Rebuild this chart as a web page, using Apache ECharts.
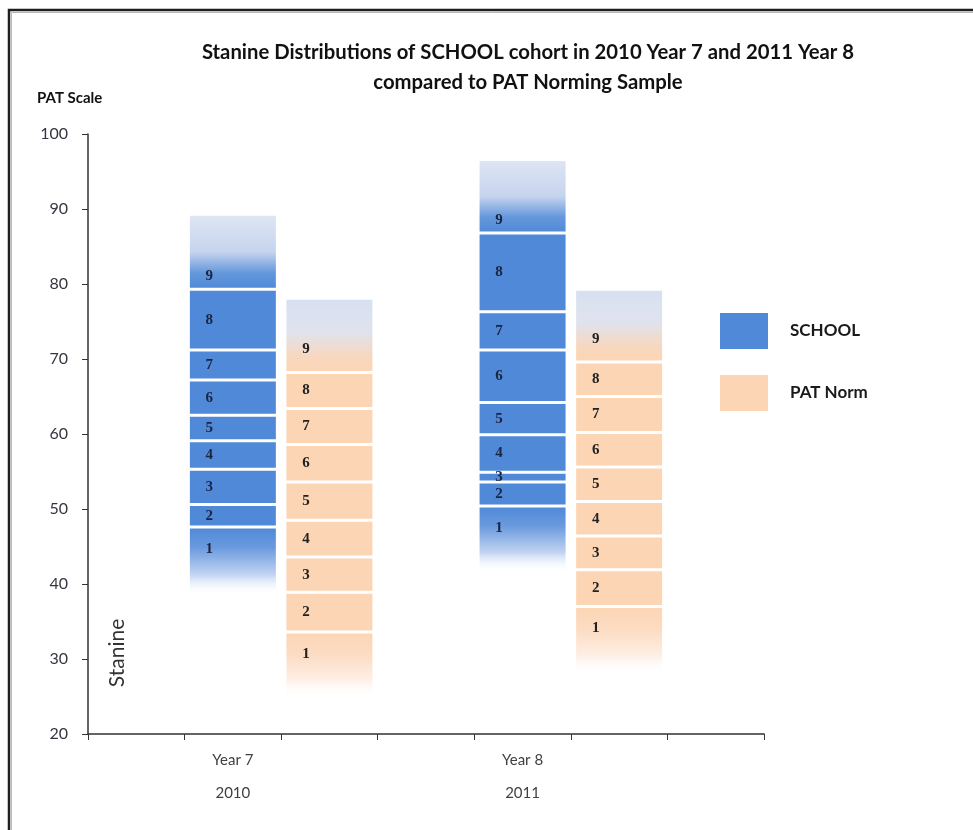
<!DOCTYPE html>
<html>
<head>
<meta charset="utf-8">
<title>Stanine Distributions</title>
<script src="https://cdn.jsdelivr.net/npm/echarts@6/dist/echarts.min.js"></script>
<style>
  html, body { margin: 0; padding: 0; background: #fff; }
  #chart { width: 973px; height: 830px; }
</style>
</head>
<body>
<div id="chart"></div>
<script>
// 类目（每组两根柱：SCHOOL / PAT Norm）
const categories = ['', 'Year 7\n2010', '', '', 'Year 8\n2011', '', ''];
// 各柱的标准九分边界（从 stanine 1 底部到 stanine 9 顶部）
const school2010 = [38.5, 47.6, 50.6, 55.3, 59.1, 62.5, 67.2, 71.2, 79.3, 89.3];
const pat2010 = [25.0, 33.6, 38.9, 43.6, 48.5, 53.6, 58.6, 63.4, 68.2, 78.1];
const school2011 = [41.5, 50.4, 53.6, 54.9, 59.9, 64.2, 71.2, 76.3, 86.8, 96.6];
const pat2011 = [28.1, 37.0, 41.9, 46.4, 51.0, 55.6, 60.2, 65.0, 69.6, 79.3];
const stanines = ['1', '2', '3', '4', '5', '6', '7', '8', '9'];
const yTicks = { min: 20, max: 100, interval: 10 };

// 每个类目对应的柱子数据
const bars = [null, {g: 'school', b: school2010}, {g: 'pat', b: pat2010}, null,
  {g: 'school', b: school2011}, {g: 'pat', b: pat2011}, null];

// 颜色
const schoolColor = '#4f89d8';
const patColor = '#fcd5b4';
const fontFamily = 'Lato, "Open Sans", sans-serif';

function grad(stops) {
  return new echarts.graphic.LinearGradient(0, 0, 0, 1,
    stops.map(s => ({offset: s[0], color: s[1]})));
}

function segColor(group, idx) {
  if (group === 'school') {
    if (idx === 8) return grad([[0, '#dfe6f3'], [0.5, '#c6d4ee'], [0.78, '#6598dc'], [1, schoolColor]]);
    if (idx === 0) return grad([[0, schoolColor], [0.3, '#6a9ade'], [0.7, '#c2d4f1'], [1, 'rgba(255,255,255,0)']]);
    return schoolColor;
  }
  if (idx === 8) return grad([[0, '#d7e0f1'], [0.45, '#dfe3ee'], [0.8, '#f8d7bd'], [1, patColor]]);
  if (idx === 0) return grad([[0, patColor], [0.35, '#fcdcc3'], [0.75, '#fef0e6'], [1, 'rgba(255,255,255,0)']]);
  return patColor;
}

function labelPos(group, idx) {
  if (idx === 0) return [21, 22];
  if (idx === 8) return [21, group === 'school' ? '83%' : '69%'];
  return [21, '50%'];
}

let chart = echarts.init(document.getElementById('chart'));

let series = [];
// 透明底座
series.push({
  type: 'bar', stack: 'x', barWidth: 89, silent: true,
  itemStyle: {color: 'transparent'},
  data: bars.map(b => b ? b.b[0] : '-')
});
stanines.forEach((s, i) => {
  series.push({
    type: 'bar', stack: 'x', barWidth: 89,
    data: bars.map(b => {
      if (!b) return '-';
      return {
        value: +(b.b[i + 1] - b.b[i]).toFixed(2),
        itemStyle: {color: segColor(b.g, i), borderColor: '#ffffff', borderWidth: 1.5},
        label: {
          position: labelPos(b.g, i),
          color: b.g === 'school' ? '#1c2540' : '#222222'
        }
      };
    }),
    label: {
      show: true,
      formatter: () => s,
      align: 'center',
      verticalAlign: 'middle',
      fontFamily: '"Liberation Serif", "DejaVu Serif", serif',
      fontWeight: 'bold',
      fontSize: 15
    }
  });
});
// 图例用的空系列
series.push({name: 'SCHOOL', type: 'bar', stack: 'x', data: [], itemStyle: {color: schoolColor}});
series.push({name: 'PAT Norm', type: 'bar', stack: 'x', data: [], itemStyle: {color: patColor}});

let option = {
  animation: false,
  backgroundColor: '#ffffff',
  grid: {left: 88, right: 209, top: 134, bottom: 96},
  legend: {
    data: ['SCHOOL', 'PAT Norm'],
    orient: 'vertical',
    left: 720, top: 313,
    padding: 0,
    icon: 'rect',
    itemWidth: 48, itemHeight: 36, itemGap: 26,
    itemStyle: {borderWidth: 0},
    selectedMode: false,
    textStyle: {fontFamily: fontFamily, fontWeight: 'bold', fontSize: 17, color: '#1a1a1a', padding: [0, 0, 0, 17]}
  },
  xAxis: {
    type: 'category',
    data: categories,
    boundaryGap: true,
    axisLine: {lineStyle: {color: '#333333', width: 1.5}},
    axisTick: {show: true, interval: 0, length: 6, lineStyle: {color: '#333333'}},
    axisLabel: {interval: 0, fontFamily: fontFamily, fontSize: 15, lineHeight: 33, color: '#404040', margin: 10}
  },
  yAxis: {
    type: 'value',
    min: yTicks.min, max: yTicks.max, interval: yTicks.interval,
    axisLine: {show: true, lineStyle: {color: '#333333', width: 1.5}},
    axisTick: {show: true, length: 6, lineStyle: {color: '#333333'}},
    splitLine: {show: false},
    axisLabel: {fontFamily: fontFamily, fontSize: 16, color: '#38343f', margin: 20}
  },
  graphic: [
    {type: 'rect', shape: {x: 9, y: 10, width: 1000, height: 900}, style: {fill: 'none', stroke: '#1e1e1e', lineWidth: 2.5}, silent: true},
    {type: 'rect', shape: {x: 11.5, y: 12.5, width: 1000, height: 900}, style: {fill: 'none', stroke: '#b8b8b8', lineWidth: 1}, silent: true},
    {
      type: 'text', x: 528, y: 67,
      style: {
        text: 'Stanine Distributions of SCHOOL cohort in 2010 Year 7 and 2011 Year 8\ncompared to PAT Norming Sample',
        fontFamily: fontFamily, fontWeight: 'bold', fontSize: 20.3, lineHeight: 30,
        fill: '#111111', align: 'center', verticalAlign: 'middle'
      }
    },
    {
      type: 'text', x: 37, y: 98,
      style: {text: 'PAT Scale', fontFamily: fontFamily, fontWeight: 'bold', fontSize: 15, fill: '#111111', align: 'left', verticalAlign: 'middle'}
    },
    {
      type: 'text', x: 117, y: 653, rotation: Math.PI / 2,
      style: {text: 'Stanine', fontFamily: fontFamily, fontSize: 21, fill: '#333333', align: 'center', verticalAlign: 'middle'}
    }
  ],
  series: series
};

chart.setOption(option);
</script>
</body>
</html>
